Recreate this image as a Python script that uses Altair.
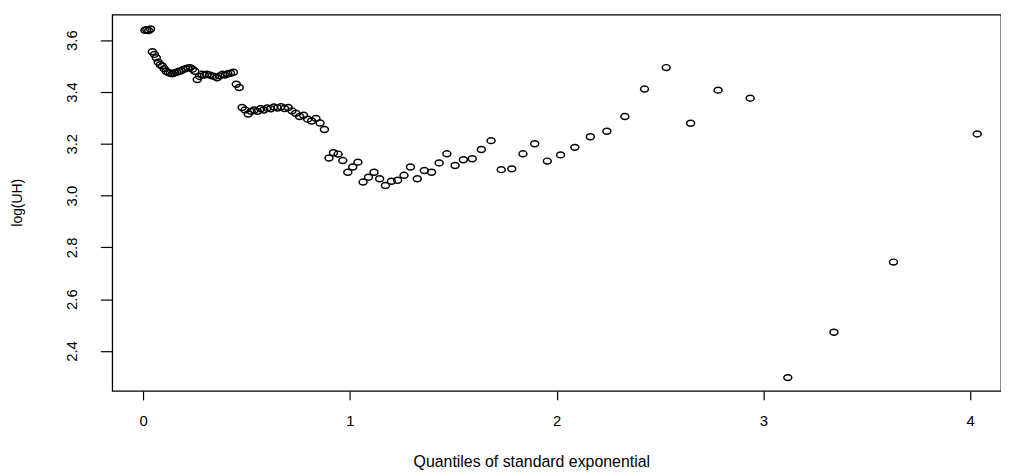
import altair as alt
import pandas as pd

# Exponential quantiles (x) and log(UH) values (y)
quantiles = [
    0.009, 0.018, 0.027, 0.036, 0.045, 0.055, 0.064, 0.073, 0.083, 0.093,
    0.102, 0.112, 0.122, 0.132, 0.142, 0.153, 0.163, 0.174, 0.184, 0.195,
    0.206, 0.217, 0.228, 0.239, 0.250, 0.262, 0.273, 0.285, 0.297, 0.309,
    0.321, 0.333, 0.345, 0.358, 0.371, 0.384, 0.397, 0.410, 0.423, 0.437,
    0.451, 0.465, 0.479, 0.493, 0.508, 0.523, 0.538, 0.553, 0.569, 0.584,
    0.600, 0.617, 0.633, 0.650, 0.667, 0.684, 0.702, 0.720, 0.738, 0.757,
    0.776, 0.796, 0.815, 0.836, 0.856, 0.877, 0.899, 0.921, 0.943, 0.966,
    0.990, 1.014, 1.039, 1.064, 1.090, 1.117, 1.144, 1.172, 1.201, 1.231,
    1.262, 1.293, 1.326, 1.360, 1.395, 1.432, 1.469, 1.509, 1.549, 1.592,
    1.636, 1.683, 1.732, 1.783, 1.837, 1.894, 1.955, 2.019, 2.088, 2.163,
    2.243, 2.330, 2.425, 2.530, 2.648, 2.781, 2.936, 3.118, 3.341, 3.629,
    4.034,
]
log_uh = [
    3.638, 3.640, 3.637, 3.643, 3.555, 3.545, 3.532, 3.515, 3.505, 3.500,
    3.490, 3.480, 3.475, 3.472, 3.470, 3.474, 3.476, 3.480, 3.482, 3.487,
    3.490, 3.493, 3.494, 3.488, 3.480, 3.448, 3.460, 3.468, 3.465, 3.468,
    3.466, 3.462, 3.460, 3.455, 3.462, 3.468, 3.465, 3.470, 3.472, 3.476,
    3.430, 3.417, 3.340, 3.330, 3.315, 3.325, 3.330, 3.325, 3.335, 3.330,
    3.338, 3.335, 3.342, 3.338, 3.343, 3.336, 3.340, 3.327, 3.318, 3.305,
    3.310, 3.295, 3.288, 3.298, 3.280, 3.255, 3.145, 3.165, 3.160, 3.135,
    3.090, 3.110, 3.129, 3.052, 3.071, 3.090, 3.065, 3.039, 3.055, 3.059,
    3.078, 3.110, 3.065, 3.097, 3.090, 3.126, 3.161, 3.116, 3.138, 3.142,
    3.178, 3.212, 3.100, 3.103, 3.161, 3.200, 3.133, 3.157, 3.186, 3.227,
    3.248, 3.305, 3.411, 3.494, 3.279, 3.407, 3.376, 2.297, 2.472, 2.743,
    3.238,
]
x_ticks = [0, 1, 2, 3, 4]
y_ticks = [2.4, 2.6, 2.8, 3.0, 3.2, 3.4, 3.6]

df = pd.DataFrame({"q": quantiles, "v": log_uh})

ellipse = "M -1 0 A 1 0.75 0 1 0 1 0 A 1 0.75 0 1 0 -1 0 Z"

chart = (
    alt.Chart(df)
    .mark_point(shape=ellipse, filled=False, stroke="black", strokeWidth=1.5, size=64, opacity=1)
    .encode(
        x=alt.X(
            "q:Q",
            scale=alt.Scale(domain=[-0.149, 4.149], nice=False, zero=False),
            axis=alt.Axis(
                values=x_ticks, format="d", title="Quantiles of standard exponential",
                tickSize=9, labelPadding=14, labelFontSize=15, titleFontSize=16,
                titleY=71, titleBaseline="middle", titleX=422, titleAlign="center",
            ),
        ),
        y=alt.Y(
            "v:Q",
            scale=alt.Scale(domain=[2.2456, 3.6987], nice=False, zero=False),
            axis=alt.Axis(
                values=y_ticks, format=".1f", title="log(UH)",
                tickSize=12, labelPadding=24, labelAngle=270, labelAlign="center",
                labelBaseline="alphabetic", labelFontSize=15, titleFontSize=14,
                titleAngle=270, titleX=-95, titleY=189, titleAlign="center",
                titleBaseline="middle",
            ),
        ),
    )
    .properties(
        width=895,
        height=379,
        padding={"left": 105, "top": 5, "right": 0, "bottom": 79},
        autosize=alt.AutoSizeParams(type="none"),
    )
    .configure_view(stroke="black", strokeWidth=1.3)
    .configure_axis(
        domain=False, grid=False, tickColor="black", tickWidth=1.2,
        labelColor="black", titleColor="black",
        labelFont="Liberation Sans", titleFont="Liberation Sans",
        titleFontWeight="normal",
    )
)

chart.save("out.html", embed_options={"renderer": "svg", "actions": False})
